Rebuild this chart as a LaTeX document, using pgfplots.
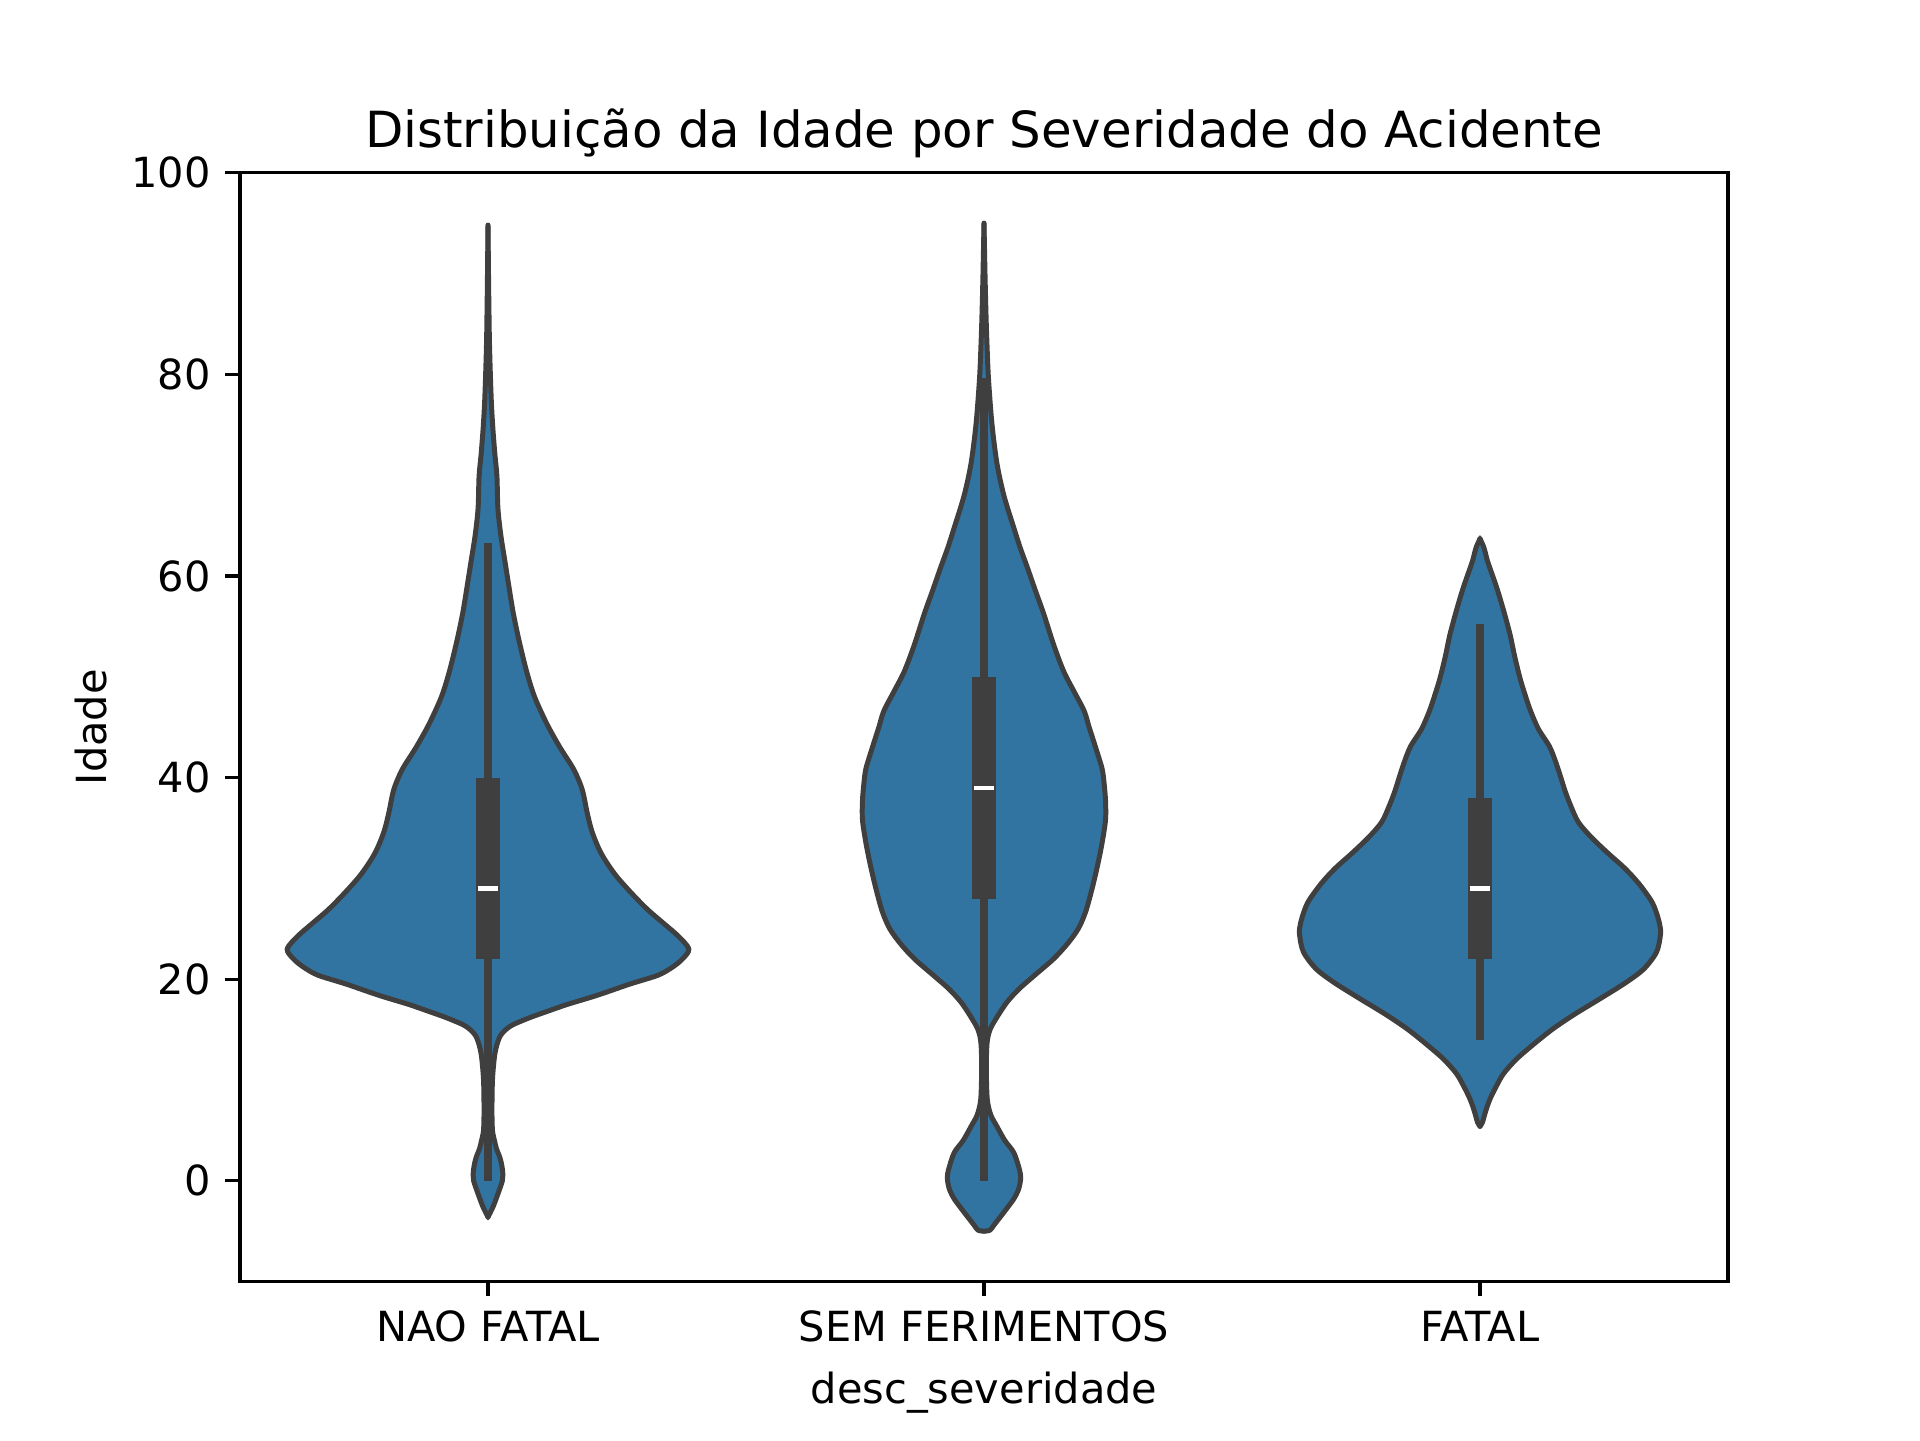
\documentclass[border=0pt]{standalone}
\usepackage{fontspec}
\setmainfont{DejaVu Sans}
\usepackage{pgfplots}
\usepackage{pgfplotstable}
\pgfplotsset{compat=1.18}
\definecolor{vblue}{RGB}{50,116,161}
\definecolor{vgray}{RGB}{63,63,63}

% y = age, w = half-width of the violin (in category units)
\pgfplotstableread{
y w
-3.6 0
-2.6 0.010
-1.3 0.020
0 0.029
0.6 0.030
1.5 0.028
2.3 0.024
3.2 0.017
4 0.013
5 0.009
7 0.008
10 0.009
12.3 0.013
13.5 0.018
14.4 0.025
15 0.036
15.5 0.051
16.2 0.085
16.8 0.119
17.5 0.16
18.4 0.22
19.5 0.285
20.4 0.343
21.2 0.372
22 0.392
23 0.405
24.3 0.383
25.5 0.355
26.9 0.322
28.5 0.29
30.4 0.256
32.5 0.228
34.6 0.21
36.5 0.2
38.8 0.19
40.8 0.173
43 0.145
45.3 0.119
48 0.094
50.5 0.078
53.5 0.063
56.3 0.051
59 0.042
61.5 0.034
64 0.026
66.7 0.020
69.9 0.018
72 0.014
74.5 0.010
77 0.007
79.6 0.005
83 0.003
86 0.002
90 0.001
94.8 0
}\naofatal

\pgfplotstableread{
y w
-5.0 0
-4.9 0.012
-4.4 0.02
-3 0.042
-1.8 0.060
-0.8 0.070
0.3 0.074
1.2 0.071
2.8 0.060
4 0.042
5.4 0.026
6.5 0.014
7.9 0.007
10 0.005
12.5 0.005
14 0.007
15.1 0.013
16.3 0.027
17.7 0.046
19 0.070
20.3 0.100
22 0.14
23.5 0.168
25 0.19
26.7 0.205
29 0.218
31.3 0.229
33.5 0.238
35.8 0.245
37.7 0.245
39.5 0.242
40.9 0.238
43 0.225
45 0.212
46.6 0.202
48.5 0.182
50.5 0.161
53.1 0.141
56.3 0.12
58.5 0.104
60.9 0.087
62.8 0.073
64.8 0.060
68 0.040
71.2 0.026
75.1 0.016
79.6 0.009
83 0.006
86 0.004
90 0.002
95 0
}\semferimentos

\pgfplotstableread{
y w
5.4 0
5.8 0.005
6.5 0.009
7.3 0.014
8.2 0.021
9.3 0.032
10.6 0.047
12 0.072
13.3 0.102
15 0.145
16.5 0.19
18 0.24
19.6 0.292
21 0.33
22.7 0.356
24.5 0.364
25.5 0.362
26.7 0.355
27.8 0.345
29.5 0.32
31 0.292
32.5 0.258
34.1 0.224
35.6 0.198
37.2 0.183
38.6 0.172
40 0.163
41.5 0.153
43.1 0.140
44.8 0.118
46.6 0.102
48.2 0.091
49.8 0.081
52 0.07
54.1 0.061
56.5 0.048
58.8 0.034
60.5 0.022
61.5 0.015
62.8 0.008
63.7 0
}\fatal

\begin{document}
\begin{tikzpicture}
\begin{axis}[
  scale only axis,
  width=4.96in, height=3.696in,
  xmin=-0.5, xmax=2.5,
  ymin=-10, ymax=100,
  xtick={0,1,2},
  xticklabels={NAO FATAL,SEM FERIMENTOS,FATAL},
  ytick={0,20,40,60,80,100},
  xtick pos=bottom, ytick pos=left,
  tick align=outside,
  major tick length=3.5pt,
  every tick/.style={black, line width=0.8pt},
  axis line style={line width=0.8pt},
  /pgf/number format/assume math mode=true,
  ticklabel style={font=\fontsize{10}{12}\selectfont, black},
  title={Distribuição da Idade por Severidade do Acidente},
  title style={at={(0.5,1)}, anchor=base, font=\fontsize{12}{14}\selectfont},
  xlabel={desc\_severidade},
  ylabel={Idade},
  xlabel style={at={(axis description cs:0.5,-0.1005)}, anchor=center, font=\fontsize{10}{12}\selectfont},
  ylabel style={at={(axis description cs:-0.100,0.5)}, anchor=center, font=\fontsize{10}{12}\selectfont},
  clip=false,
]
% fills
\addplot[fill=vblue, draw=vblue, line width=0.4pt, smooth, tension=0.5] table[x expr=\thisrow{w}, y=y] {\naofatal} -- cycle;
\addplot[fill=vblue, draw=vblue, line width=0.4pt, smooth, tension=0.5] table[x expr=-\thisrow{w}, y=y] {\naofatal} -- cycle;
\addplot[fill=vblue, draw=vblue, line width=0.4pt, smooth, tension=0.5] table[x expr=1+\thisrow{w}, y=y] {\semferimentos} -- cycle;
\addplot[fill=vblue, draw=vblue, line width=0.4pt, smooth, tension=0.5] table[x expr=1-\thisrow{w}, y=y] {\semferimentos} -- cycle;
\addplot[fill=vblue, draw=vblue, line width=0.4pt, smooth, tension=0.5] table[x expr=2+\thisrow{w}, y=y] {\fatal} -- cycle;
\addplot[fill=vblue, draw=vblue, line width=0.4pt, smooth, tension=0.5] table[x expr=2-\thisrow{w}, y=y] {\fatal} -- cycle;
% outlines
\addplot[draw=vgray, line width=1.2pt, line join=round, line cap=round, smooth, tension=0.5] table[x expr=\thisrow{w}, y=y] {\naofatal};
\addplot[draw=vgray, line width=1.2pt, line join=round, line cap=round, smooth, tension=0.5] table[x expr=-\thisrow{w}, y=y] {\naofatal};
\addplot[draw=vgray, line width=1.2pt, line join=round, line cap=round, smooth, tension=0.5] table[x expr=1+\thisrow{w}, y=y] {\semferimentos};
\addplot[draw=vgray, line width=1.2pt, line join=round, line cap=round, smooth, tension=0.5] table[x expr=1-\thisrow{w}, y=y] {\semferimentos};
\addplot[draw=vgray, line width=1.2pt, line join=round, line cap=round, smooth, tension=0.5] table[x expr=2+\thisrow{w}, y=y] {\fatal};
\addplot[draw=vgray, line width=1.2pt, line join=round, line cap=round, smooth, tension=0.5] table[x expr=2-\thisrow{w}, y=y] {\fatal};
% whiskers
\addplot[draw=vgray, line width=1.7pt] coordinates {(0,0) (0,63.3)};
\addplot[draw=vgray, line width=1.7pt] coordinates {(1,0) (1,79.6)};
\addplot[draw=vgray, line width=1.7pt] coordinates {(2,14) (2,55.2)};
% boxes (interquartile range)
\addplot[draw=vgray, line width=5.9pt] coordinates {(0,22) (0,40)};
\addplot[draw=vgray, line width=5.9pt] coordinates {(1,28) (1,50)};
\addplot[draw=vgray, line width=5.9pt] coordinates {(2,22) (2,38)};
% medians
\addplot[draw=white, line width=1.0pt] coordinates {(-0.021,29) (0.021,29)};
\addplot[draw=white, line width=1.0pt] coordinates {(0.979,39) (1.021,39)};
\addplot[draw=white, line width=1.0pt] coordinates {(1.979,29) (2.021,29)};
\end{axis}
\path (current axis.south west) ++(-0.8in,-0.528in) rectangle ++(6.4in,4.8in);
\end{tikzpicture}
\end{document}
